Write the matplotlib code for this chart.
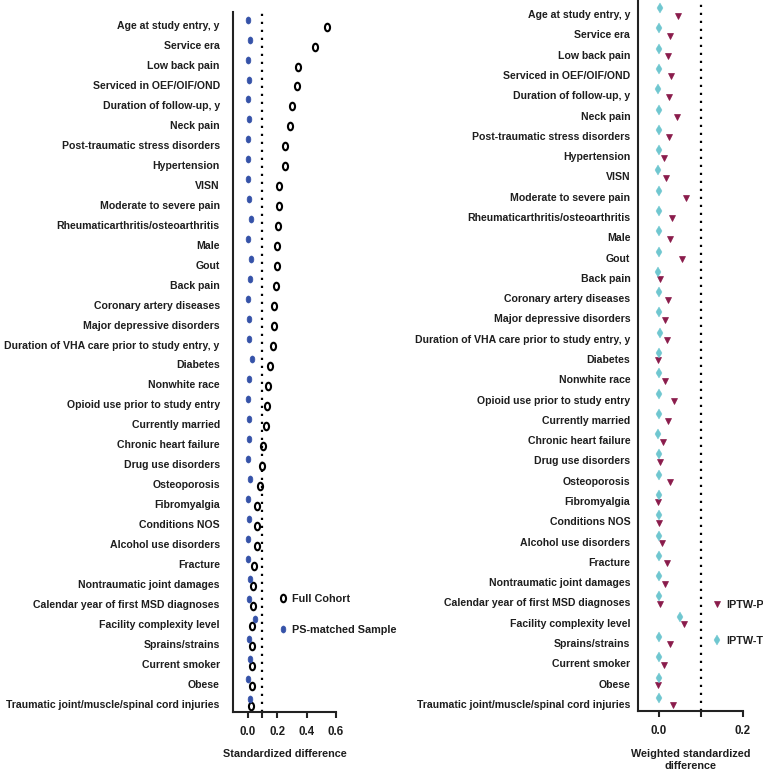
import numpy as np
import matplotlib
matplotlib.use("Agg")
import matplotlib.pyplot as plt
from matplotlib.path import Path
from matplotlib.ticker import FixedLocator

plt.rcParams['font.family'] = ['Liberation Sans', 'DejaVu Sans']
plt.rcParams['font.weight'] = 'bold'

categories = [
    "Age at study entry, y", "Service era", "Low back pain", "Serviced in OEF/OIF/OND",
    "Duration of follow-up, y", "Neck pain", "Post-traumatic stress disorders", "Hypertension",
    "VISN", "Moderate to severe pain", "Rheumaticarthritis/osteoarthritis", "Male", "Gout",
    "Back pain", "Coronary artery diseases", "Major depressive disorders",
    "Duration of VHA care prior to study entry, y", "Diabetes", "Nonwhite race",
    "Opioid use prior to study entry", "Currently married", "Chronic heart failure",
    "Drug use disorders", "Osteoporosis", "Fibromyalgia", "Conditions NOS",
    "Alcohol use disorders", "Fracture", "Nontraumatic joint damages",
    "Calendar year of first MSD diagnoses", "Facility complexity level", "Sprains/strains",
    "Current smoker", "Obese", "Traumatic joint/muscle/spinal cord injuries",
]

full_cohort = [0.537, 0.458, 0.340, 0.333, 0.299, 0.286, 0.256, 0.256, 0.215, 0.215,
               0.209, 0.202, 0.202, 0.193, 0.177, 0.177, 0.170, 0.152, 0.136, 0.129,
               0.122, 0.102, 0.100, 0.084, 0.066, 0.066, 0.066, 0.043, 0.039, 0.034,
               0.032, 0.032, 0.029, 0.027, 0.025]
ps_matched = [0.005, 0.016, 0.005, 0.011, 0.005, 0.007, 0.005, 0.005, 0.005, 0.007,
              0.023, 0.002, 0.020, 0.016, 0.002, 0.009, 0.009, 0.032, 0.011, 0.000,
              0.009, 0.007, 0.000, 0.014, 0.005, 0.009, 0.002, 0.002, 0.016, 0.009,
              0.050, 0.011, 0.018, 0.005, 0.016]
iptw_p = [0.046, 0.026, 0.021, 0.028, 0.024, 0.042, 0.024, 0.012, 0.017, 0.065,
          0.031, 0.026, 0.054, 0.002, 0.022, 0.014, 0.018, -0.002, 0.015, 0.035,
          0.022, 0.009, 0.002, 0.025, -0.002, 0.000, 0.006, 0.020, 0.015, 0.003,
          0.060, 0.026, 0.013, -0.002, 0.034]
iptw_t = [0.002, 0.001, 0.000, 0.001, -0.002, 0.001, 0.000, -0.001, -0.002, 0.001,
          -0.001, 0.001, -0.001, -0.002, -0.001, -0.001, 0.002, -0.001, -0.001, -0.001,
          -0.001, -0.002, -0.001, -0.001, -0.001, -0.001, -0.001, -0.001, 0.000, -0.001,
          0.049, 0.000, -0.001, -0.001, 0.000]

left_ticks = [0.0, 0.2, 0.4, 0.6]
right_ticks = [0.0, 0.2]
threshold = 0.1

TXT = '#1e1e1e'
BLUE = '#3552a8'
CYAN = '#6fc7d0'
MAROON = '#8a1b4b'
FS = 7.8

# ellipse marker (taller than wide), like the "0" glyph
circ = Path.unit_circle()
ell = Path(circ.vertices * np.array([0.68, 1.0]), circ.codes)

fig = plt.figure(figsize=(7.63, 7.70), dpi=100)
n = len(categories)
y = np.arange(n)

ax1 = fig.add_axes([233/763, 1 - 712/770, 103/763, 700/770])
ax1.plot(full_cohort, y + 0.08, linestyle='none', marker=ell, markersize=5.4,
         markerfacecolor='none', markeredgecolor='black', markeredgewidth=1.5,
         label='Full Cohort', clip_on=False)
ax1.plot(ps_matched, y - 0.27, linestyle='none', marker=ell, markersize=5.0,
         markerfacecolor=BLUE, markeredgecolor=BLUE, markeredgewidth=0.5,
         label='PS-matched Sample', clip_on=False)
ax1.axvline(threshold, color='black', linestyle=(0, (1, 2.6)), linewidth=1.6)
ax1.set_xlim(-0.1, 0.6)
ax1.set_ylim(34.4, -0.65)
ax1.set_xticks(left_ticks)
ax1.set_xticklabels([f"{t:.1f}" for t in left_ticks])
ax1.xaxis.set_minor_locator(FixedLocator([threshold]))
ax1.set_yticks(y)
ax1.set_yticklabels(categories)
ax1.set_xlabel("Standardized difference", fontsize=FS, fontweight='bold', color=TXT, labelpad=8)
ax1.legend(loc='upper left', bbox_to_anchor=(280/763, 1 - 594/770), bbox_transform=fig.transFigure,
           frameon=False, handlelength=0.6, handletextpad=0.5, labelspacing=1.96,
           fontsize=FS, borderaxespad=0, borderpad=0, labelcolor=TXT)

ax2 = fig.add_axes([638/763, 1 - 711/770, 105/763, 711/770])
ax2.plot(iptw_p, y + 0.07, linestyle='none', marker='v', markersize=4.6,
         markerfacecolor=MAROON, markeredgecolor=MAROON, markeredgewidth=0.5,
         label='IPTW-P', clip_on=False)
ax2.plot(iptw_t, y - 0.3, linestyle='none', marker='d', markersize=5.0,
         markerfacecolor=CYAN, markeredgecolor=CYAN, markeredgewidth=0.3,
         label='IPTW-T', clip_on=False)
ax2.axvline(threshold, color='black', linestyle=(0, (1, 2.6)), linewidth=1.6)
ax2.set_xlim(-0.05, 0.2)
ax2.set_ylim(34.35, -0.7)
ax2.set_xticks(right_ticks)
ax2.set_xticklabels([f"{t:.1f}" for t in right_ticks])
ax2.xaxis.set_minor_locator(FixedLocator([threshold]))
ax2.set_yticks(y)
ax2.set_yticklabels(categories)
ax2.set_xlabel("Weighted standardized\ndifference", fontsize=FS, fontweight='bold',
               color=TXT, labelpad=9, linespacing=1.15)
ax2.legend(loc='upper left', bbox_to_anchor=(714/763, 1 - 600/770), bbox_transform=fig.transFigure,
           frameon=False, handlelength=0.6, handletextpad=0.5, labelspacing=2.42,
           fontsize=FS, borderaxespad=0, borderpad=0, labelcolor=TXT)

for ax, pad in ((ax1, 9.5), (ax2, 5.5)):
    for s in ('top', 'right'):
        ax.spines[s].set_visible(False)
    ax.spines['left'].set_linewidth(1.5)
    ax.spines['bottom'].set_linewidth(1.5)
    ax.spines['left'].set_color('#222222')
    ax.spines['bottom'].set_color('#222222')
    ax.tick_params(axis='y', length=0, pad=pad, labelsize=7.6, labelcolor=TXT)
    ax.tick_params(axis='x', which='both', length=4, width=1.5, color='#222222',
                   labelsize=8.3, labelcolor=TXT, pad=6)
    for lab in ax.get_yticklabels() + ax.get_xticklabels():
        lab.set_fontweight('bold')

fig.savefig("out.png", dpi=100)
